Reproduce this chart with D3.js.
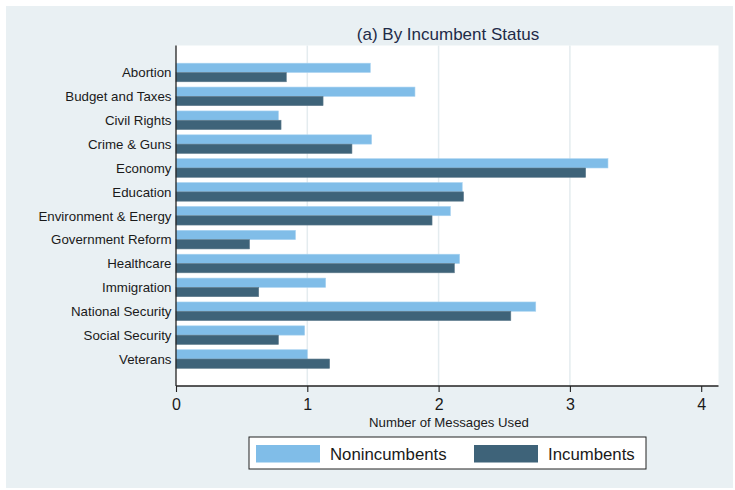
<!DOCTYPE html>
<html>
<head>
<meta charset="utf-8">
<script src="https://cdn.jsdelivr.net/npm/d3@7"></script>
<style>
  html, body { margin: 0; padding: 0; background: #ffffff; }
  svg { display: block; font-family: "Liberation Sans", Arial, sans-serif; }
</style>
</head>
<body>
<svg id="chart" width="735" height="490"></svg>
<script>
// Topics, in display order (top to bottom)
const categories = [
  "Abortion", "Budget and Taxes", "Civil Rights", "Crime & Guns", "Economy",
  "Education", "Environment & Energy", "Government Reform", "Healthcare",
  "Immigration", "National Security", "Social Security", "Veterans"
];
// Average number of messages used per topic
const nonincumbents = [1.48, 1.82, 0.78, 1.49, 3.29, 2.18, 2.09, 0.91, 2.16, 1.14, 2.74, 0.98, 1.00];
const incumbents    = [0.84, 1.12, 0.80, 1.34, 3.12, 2.19, 1.95, 0.56, 2.12, 0.63, 2.55, 0.78, 1.17];
const xTicks = [0, 1, 2, 3, 4];
const seriesNames = ["Nonincumbents", "Incumbents"];
const seriesColors = ["#80bde8", "#3e6379"];

const svg = d3.select("#chart");
const W = 735, H = 490;

// outer graph region
svg.append("rect").attr("x", 6).attr("y", 6).attr("width", W - 8).attr("height", H - 8)
  .attr("fill", "#e9f0f3");

const plot = { left: 176, right: 718.5, top: 45.5, bottom: 386 };

svg.append("rect")
  .attr("x", plot.left).attr("y", plot.top)
  .attr("width", plot.right - plot.left).attr("height", plot.bottom - plot.top)
  .attr("fill", "#ffffff");

const x = d3.scaleLinear().domain([0, 4]).range([176, 701.2]);
const y = d3.scalePoint().domain(categories).range([plot.top, plot.bottom]).padding(1.13);
const barH = 9.3;

// vertical gridlines
svg.append("g").selectAll("line")
  .data(xTicks.filter(t => t > 0 && t < 4))
  .join("line")
  .attr("x1", d => x(d)).attr("x2", d => x(d))
  .attr("y1", plot.top).attr("y2", plot.bottom)
  .attr("stroke", "#e4ecef").attr("stroke-width", 1.5);

// bars
const rows = svg.append("g").selectAll("g")
  .data(categories.map((c, i) => ({ c, vals: [nonincumbents[i], incumbents[i]] })))
  .join("g")
  .attr("transform", d => `translate(0,${y(d.c)})`);

rows.selectAll("rect")
  .data(d => d.vals)
  .join("rect")
  .attr("x", x(0))
  .attr("y", (d, i) => i === 0 ? -barH : 0)
  .attr("width", d => x(d) - x(0))
  .attr("height", barH)
  .attr("fill", (d, i) => seriesColors[i])
  .attr("stroke", (d, i) => i === 0 ? "#a9d3f0" : "#5f7b8c")
  .attr("stroke-width", 0.6);

// category labels
svg.append("g").selectAll("text")
  .data(categories)
  .join("text")
  .attr("x", 171.5)
  .attr("y", d => y(d))
  .attr("dy", "0.36em")
  .attr("text-anchor", "end")
  .attr("font-size", 13.3)
  .attr("fill", "#1a1a1a")
  .text(d => d);

// left axis line
svg.append("line")
  .attr("x1", plot.left).attr("x2", plot.left)
  .attr("y1", plot.top).attr("y2", plot.bottom)
  .attr("stroke", "#222").attr("stroke-width", 1.3);

// bottom axis
const xAxis = d3.axisBottom(x).tickValues(xTicks).tickSize(6).tickPadding(7).tickFormat(d3.format("d"));
const gx = svg.append("g").attr("transform", `translate(0,${plot.bottom})`).call(xAxis);
gx.select(".domain").remove();
gx.append("line").attr("x1", plot.left).attr("x2", plot.right).attr("y1", 0).attr("y2", 0)
  .attr("stroke", "#222").attr("stroke-width", 1.3);
gx.selectAll(".tick line").attr("stroke", "#222").attr("stroke-width", 1.1);
gx.selectAll(".tick text").attr("font-size", 16).attr("fill", "#1a1a1a")
  .attr("font-family", "Liberation Sans, Arial, sans-serif");

// axis title
svg.append("text")
  .attr("x", 449).attr("y", 426.5)
  .attr("text-anchor", "middle").attr("font-size", 13.2).attr("fill", "#1a1a1a")
  .text("Number of Messages Used");

// chart title
svg.append("text")
  .attr("x", 448).attr("y", 39.5)
  .attr("text-anchor", "middle").attr("font-size", 17).attr("fill", "#1e2b48")
  .text("(a) By Incumbent Status");

// legend
const legend = svg.append("g").attr("transform", "translate(249,437)");
legend.append("rect").attr("x", 0).attr("y", 0).attr("width", 397).attr("height", 32)
  .attr("fill", "#ffffff").attr("stroke", "#222").attr("stroke-width", 1);
const legendX = [7, 225];
const items = legend.selectAll("g.item")
  .data(seriesNames)
  .join("g").attr("class", "item")
  .attr("transform", (d, i) => `translate(${legendX[i]},0)`);
items.append("rect").attr("x", 0).attr("y", 8).attr("width", 64).attr("height", 17.5)
  .attr("fill", (d, i) => seriesColors[i]);
items.append("text").attr("x", 74).attr("y", 17).attr("dy", "0.36em")
  .attr("font-size", 16.8).attr("fill", "#1a1a1a").text(d => d);
</script>
</body>
</html>
